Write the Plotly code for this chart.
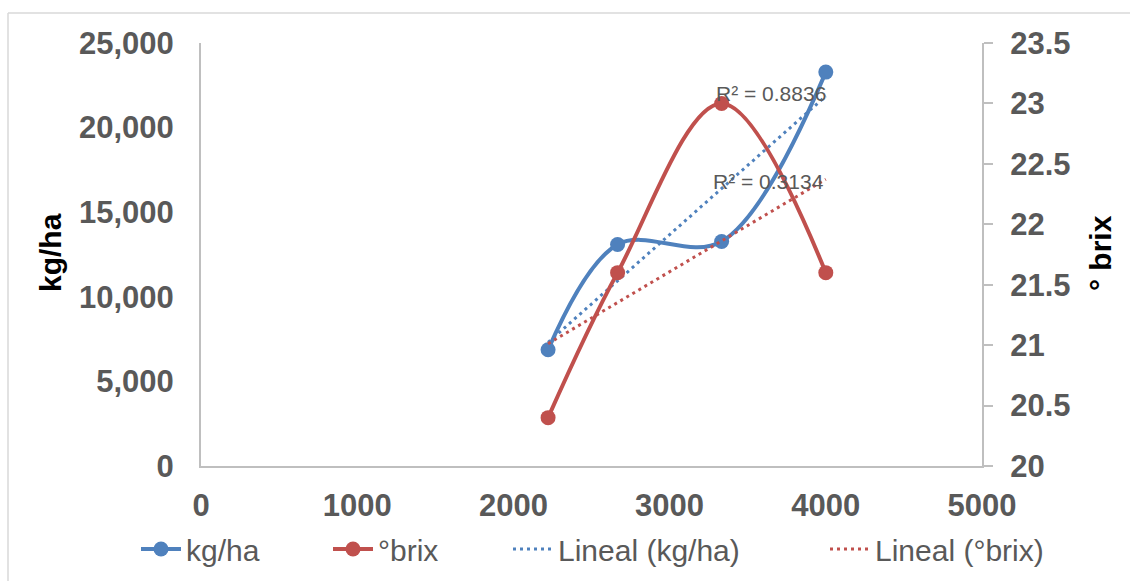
import numpy as np
import plotly.graph_objects as go

# ---- data ----
x_vals = [2222, 2667, 3333, 4000]
kg_ha = [6870, 13090, 13270, 23280]
brix = [20.4, 21.6, 23.0, 21.6]
r2_labels = ["R² = 0.8836", "R² = 0.3134"]
series_names = ["kg/ha", "°brix", "Lineal (kg/ha)", "Lineal (°brix)"]
x_ticks = [0, 1000, 2000, 3000, 4000, 5000]
y_ticks = [0, 5000, 10000, 15000, 20000, 25000]
y2_ticks = [20, 20.5, 21, 21.5, 22, 22.5, 23, 23.5]

BLUE = "#4f81bd"
RED = "#c0504d"
GRAY = "#595959"
AXIS = "#bfbfbf"
FONT = "Liberation Sans, Arial"

# plot-area geometry in pixels (for paper-coordinate placement of decorations)
L, R, T, B = 201, 982, 43, 466
W, H = R - L, B - T


def px_x(px):
    return (px - L) / W


def px_y(py):
    return (B - py) / H


x_arr = np.array(x_vals, dtype=float)
kg_fit = np.polyfit(x_arr, np.array(kg_ha, dtype=float), 1)
br_fit = np.polyfit(x_arr, np.array(brix, dtype=float), 1)
x_tr = np.array([x_arr.min(), x_arr.max()])

fig = go.Figure()
fig.add_trace(go.Scatter(
    x=x_vals, y=kg_ha, name=series_names[0], mode="lines+markers",
    line=dict(color=BLUE, width=4, shape="spline", smoothing=1),
    marker=dict(color=BLUE, size=15), yaxis="y", legend="legend"))
fig.add_trace(go.Scatter(
    x=x_vals, y=brix, name=series_names[1], mode="lines+markers",
    line=dict(color=RED, width=4, shape="spline", smoothing=1),
    marker=dict(color=RED, size=15), yaxis="y2", legend="legend2"))
fig.add_trace(go.Scatter(
    x=x_tr, y=np.polyval(kg_fit, x_tr), name=series_names[2], mode="lines",
    line=dict(color=BLUE, width=3, dash="3px,4px"), yaxis="y", legend="legend3"))
fig.add_trace(go.Scatter(
    x=x_tr, y=np.polyval(br_fit, x_tr), name=series_names[3], mode="lines",
    line=dict(color=RED, width=3, dash="3px,4px"), yaxis="y2", legend="legend4"))

tick_font = dict(family=FONT, size=31, color=GRAY, weight="bold")


def legend_at(text_start_px):
    return dict(orientation="h", x=px_x(text_start_px - 52), xanchor="left",
                y=px_y(549), yanchor="middle", itemwidth=40,
                font=dict(family=FONT, size=30, color=GRAY),
                bgcolor="rgba(0,0,0,0)", borderwidth=0)


fig.update_layout(
    width=1130, height=581,
    margin=dict(l=L, r=1130 - R, t=T, b=581 - B, autoexpand=False),
    paper_bgcolor="white", plot_bgcolor="white",
    font=dict(family=FONT, color=GRAY),
    showlegend=True,
    legend=legend_at(188),
    legend2=legend_at(380),
    legend3=legend_at(560),
    legend4=legend_at(877),
    xaxis=dict(range=[0, 5000], tickvals=x_ticks, ticktext=[str(v) for v in x_ticks],
               showgrid=False, zeroline=False, showline=True, linecolor=AXIS, linewidth=2,
               ticks="", tickfont=tick_font, ticklabelstandoff=11, automargin=False),
    yaxis=dict(range=[0, 25000], tickvals=y_ticks, ticktext=[f"{v:,}" for v in y_ticks],
               showgrid=False, zeroline=False, showline=True, linecolor=AXIS, linewidth=2,
               ticks="", tickfont=tick_font, ticklabelstandoff=19, automargin=False),
    yaxis2=dict(range=[20, 23.5], tickvals=y2_ticks, ticktext=[f"{v:g}" for v in y2_ticks],
                overlaying="y", side="right",
                showgrid=False, zeroline=False, showline=True, linecolor=AXIS, linewidth=2,
                ticks="outside", ticklen=9, tickcolor=AXIS, tickwidth=2,
                tickfont=tick_font, ticklabelstandoff=11, automargin=False),
)

# axis titles
fig.add_annotation(text="<b>kg/ha</b>", xref="paper", yref="paper",
                   x=px_x(50), y=px_y(253), xanchor="center", yanchor="middle",
                   textangle=-90, showarrow=False,
                   font=dict(family=FONT, size=30, color="black"))
fig.add_annotation(text="<b>° brix</b>", xref="paper", yref="paper",
                   x=px_x(1100), y=px_y(253), xanchor="center", yanchor="middle",
                   textangle=-90, showarrow=False,
                   font=dict(family=FONT, size=30, color="black"))

# trendline R² labels
fig.add_annotation(text=r2_labels[0], xref="x", yref="y", x=3650, y=22000,
                   showarrow=False, font=dict(family=FONT, size=21, color=GRAY))
fig.add_annotation(text=r2_labels[1], xref="x", yref="y2", x=3630, y=22.35,
                   showarrow=False, font=dict(family=FONT, size=21, color=GRAY))

# outer chart border (top and left edges visible)
fig.add_shape(type="line", xref="paper", yref="paper",
              x0=px_x(8), x1=px_x(1130), y0=px_y(13), y1=px_y(13),
              line=dict(color="#d9d9d9", width=1.5))
fig.add_shape(type="line", xref="paper", yref="paper",
              x0=px_x(8), x1=px_x(8), y0=px_y(13), y1=px_y(581),
              line=dict(color="#d9d9d9", width=1.5))

fig.write_html("out.html")
